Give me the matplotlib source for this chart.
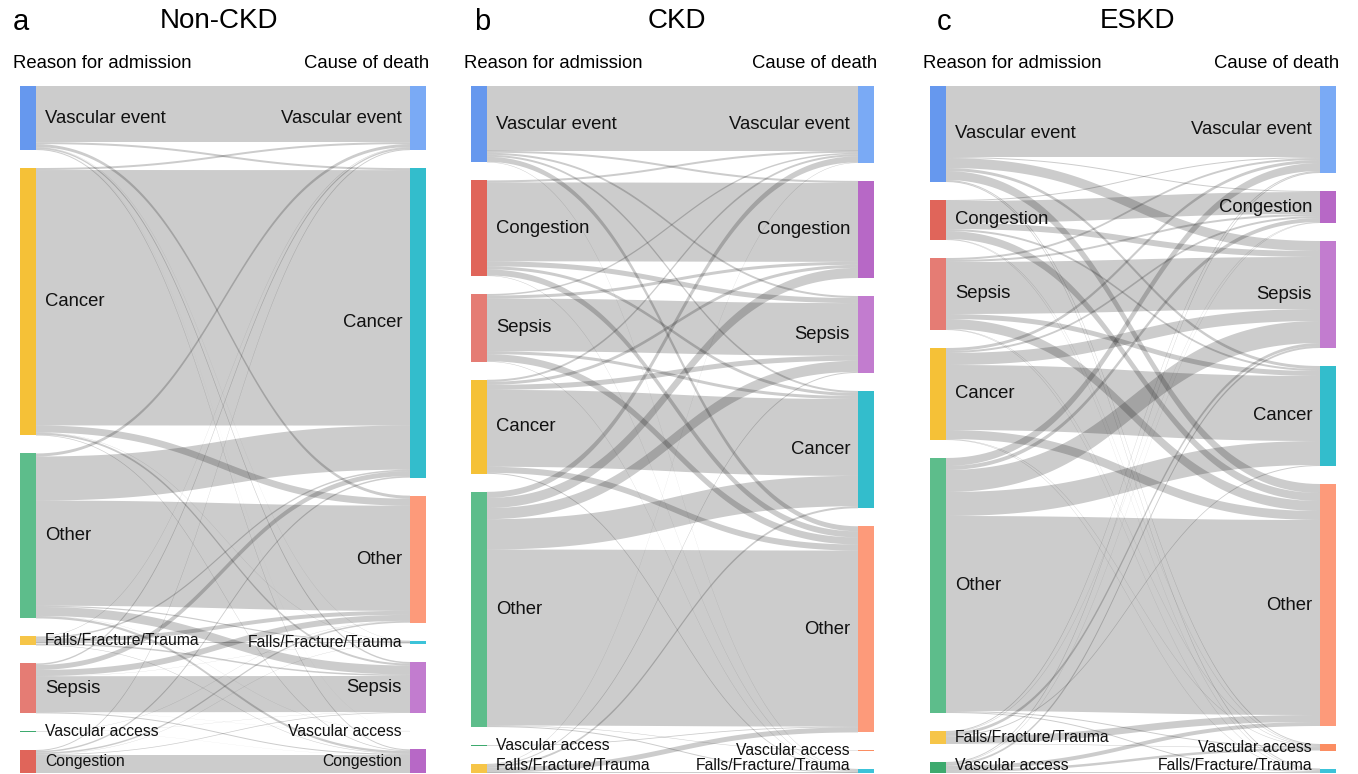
import matplotlib.pyplot as plt
import numpy as np
from matplotlib.patches import Rectangle

plt.rcParams['font.family'] = ['Liberation Sans', 'DejaVu Sans']

# ---- data: patients by reason for admission (rows) -> cause of death (cols)
adm_a = ['Vascular event', 'Cancer', 'Other', 'Falls/Fracture/Trauma', 'Sepsis', 'Vascular access', 'Congestion']
death_a = ['Vascular event', 'Cancer', 'Other', 'Falls/Fracture/Trauma', 'Sepsis', 'Vascular access', 'Congestion']
flows_a = [
    [56, 2, 3, 0.3, 1.5, 0.1, 1],
    [2, 255, 7, 0.3, 2, 0, 0.7],
    [3, 44, 105, 1.2, 9, 0.2, 2.3],
    [0.5, 1.5, 4, 1, 1.5, 0, 0.5],
    [1.5, 5, 6, 0.2, 36, 0.1, 1],
    [0, 0, 0.3, 0, 0.2, 0, 0.1],
    [1, 1.5, 1.5, 0.3, 0.7, 0, 18],
]

adm_b = ['Vascular event', 'Congestion', 'Sepsis', 'Cancer', 'Other', 'Vascular access', 'Falls/Fracture/Trauma']
death_b = ['Vascular event', 'Congestion', 'Sepsis', 'Cancer', 'Other', 'Vascular access', 'Falls/Fracture/Trauma']
flows_b = [
    [64, 2, 2, 2, 5, 0, 0.5],
    [2, 78, 5, 3, 6, 0, 0.5],
    [1.5, 3, 52, 3, 7, 0, 0.5],
    [2, 3, 5, 76, 6, 0, 1],
    [6, 10, 11, 30, 174, 0.5, 1],
    [0, 0, 0, 0, 0.8, 0, 0],
    [0.5, 0, 1, 2, 5, 0, 0.5],
]

adm_c = ['Vascular event', 'Congestion', 'Sepsis', 'Cancer', 'Other', 'Falls/Fracture/Trauma', 'Vascular access']
death_c = ['Vascular event', 'Congestion', 'Sepsis', 'Cancer', 'Other', 'Vascular access', 'Falls/Fracture/Trauma']
flows_c = [
    [71, 1, 10, 3, 9, 1, 1],
    [1, 22, 6, 2, 8, 0.5, 0.5],
    [2, 2, 52, 5, 10, 0.5, 0.5],
    [3, 2, 12, 65, 9, 0.5, 0.5],
    [8, 4, 22, 24, 195, 1, 1],
    [1, 0.5, 3, 1, 7, 0.5, 0],
    [1, 0.5, 2, 0, 4, 2.5, 1],
]

left_colors = {
    'Vascular event': '#6698ee', 'Cancer': '#f5c137', 'Other': '#5dbd8b',
    'Falls/Fracture/Trauma': '#f6c548', 'Sepsis': '#e57c74',
    'Vascular access': '#3daa6e', 'Congestion': '#e0655a',
}
right_colors = {
    'Vascular event': '#7aaaf5', 'Cancer': '#33bdcc', 'Other': '#fd9a7a',
    'Falls/Fracture/Trauma': '#3cc3d9', 'Sepsis': '#c27ccf',
    'Vascular access': '#fb8d62', 'Congestion': '#b768c6',
}

W, H = 1358, 774
TOP, BOTTOM, GAP, BAR = 86, 773, 18, 16


def node_pos(values, scale):
    pos = []
    y = TOP
    for v in values:
        pos.append((y, y + v * scale))
        y += v * scale + GAP
    return pos


def band(ax, x0, x1, s0, s1, t0, t1):
    u = np.linspace(0, 1, 80)
    xm = (x0 + x1) / 2
    bx = (1 - u) ** 3 * x0 + 3 * (1 - u) ** 2 * u * xm + 3 * (1 - u) * u ** 2 * xm + u ** 3 * x1
    top = (1 - u) ** 3 * s0 + 3 * (1 - u) ** 2 * u * s0 + 3 * (1 - u) * u ** 2 * t0 + u ** 3 * t0
    bot = (1 - u) ** 3 * s1 + 3 * (1 - u) ** 2 * u * s1 + 3 * (1 - u) * u ** 2 * t1 + u ** 3 * t1
    ax.fill(np.r_[bx, bx[::-1]], np.r_[top, bot[::-1]], color='black', alpha=0.2, lw=0, zorder=1)


def label(ax, x, y, text, h, ha):
    fs = 13.3 if h >= 28 else 11.3
    y = min(y, 765)  # keep the lowest labels inside the figure
    ax.text(x, y, text, ha=ha, va='center', fontsize=fs, color='#111111', zorder=4)


def sankey(ax, xl, xr, adm, death, flows, letter, title, title_x, letter_x):
    f = np.array(flows, dtype=float)
    lv, rv = f.sum(axis=1), f.sum(axis=0)
    n_gaps = max(len(adm), len(death)) - 1
    scale = (BOTTOM - TOP - n_gaps * GAP) / max(lv.sum(), rv.sum())
    lpos = node_pos(lv, scale)
    rpos = node_pos(rv, scale)

    # links: stacked at the source by target order, at the target by source order
    src_off = [p[0] for p in lpos]
    tgt_off = [p[0] for p in rpos]
    for i in range(len(adm)):
        for j in range(len(death)):
            v = f[i, j]
            if v <= 0:
                continue
            h = v * scale
            s0 = src_off[i]
            src_off[i] += h
            t0 = tgt_off[j]
            tgt_off[j] += h
            band(ax, xl + BAR, xr, s0, s0 + h, t0, t0 + h)

    for name, (y0, y1) in zip(adm, lpos):
        ax.add_patch(Rectangle((xl, y0), BAR, max(y1 - y0, 0.5), color=left_colors[name], lw=0, zorder=3))
        label(ax, xl + BAR + 9, (y0 + y1) / 2, name, y1 - y0, 'left')
    for name, (y0, y1) in zip(death, rpos):
        ax.add_patch(Rectangle((xr, y0), BAR, max(y1 - y0, 0.5), color=right_colors[name], lw=0, zorder=3))
        label(ax, xr - 8, (y0 + y1) / 2, name, y1 - y0, 'right')

    ax.text(xl - 7, 63, 'Reason for admission', ha='left', va='center', fontsize=13.3)
    ax.text(xr + BAR + 3, 63, 'Cause of death', ha='right', va='center', fontsize=13.3)
    ax.text(letter_x, 22, letter, ha='left', va='center', fontsize=21)
    ax.text(title_x, 21, title, ha='center', va='center', fontsize=20)


fig = plt.figure(figsize=(W / 100, H / 100), dpi=100)
ax = fig.add_axes([0, 0, 1, 1])
ax.set_xlim(0, W)
ax.set_ylim(H, 0)
ax.axis('off')

sankey(ax, 20, 410, adm_a, death_a, flows_a, 'a', 'Non-CKD', 219, 13)
sankey(ax, 471, 858, adm_b, death_b, flows_b, 'b', 'CKD', 677, 474)
sankey(ax, 930, 1320, adm_c, death_c, flows_c, 'c', 'ESKD', 1137, 937)

plt.savefig('out.png', dpi=100)
